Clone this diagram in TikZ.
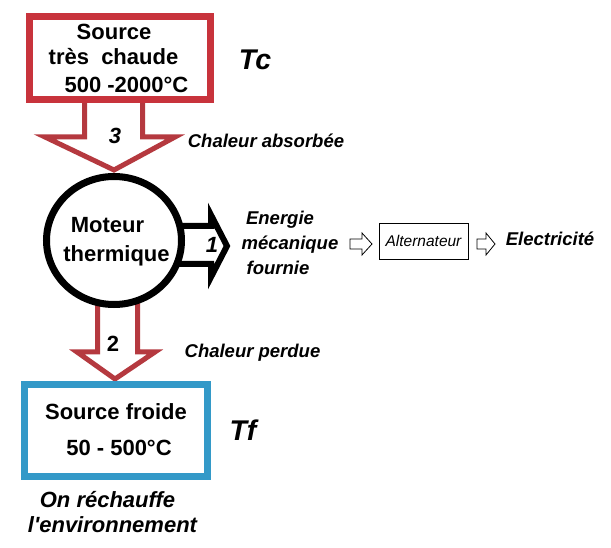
\documentclass[tikz,border=0pt]{standalone}
\usepackage{fontspec}
\setmainfont{Liberation Sans}
\usetikzlibrary{shapes.geometric}
\definecolor{hotred}{HTML}{C8333C}
\definecolor{arrred}{HTML}{B5393F}
\definecolor{coldblue}{HTML}{3399C8}
\begin{document}
\begin{tikzpicture}[x=1pt,y=-1pt,
  hotbox/.style={draw=hotred,line width=7pt,fill=white,minimum width=181pt,minimum height=83pt,inner sep=0pt},
  coldbox/.style={draw=coldblue,line width=7pt,fill=white,minimum width=183pt,minimum height=92pt,inner sep=0pt},
  enginecirc/.style={draw=black,line width=7pt,fill=white,ellipse,inner sep=0pt},
  altbox/.style={draw=black,line width=0.8pt,minimum width=89pt,minimum height=36pt,inner sep=0pt},
  bigarrow/.style={draw=arrred,line width=5pt,fill=white,miter limit=20},
  blackarrow/.style={draw=black,line width=6pt,fill=white,miter limit=20},
  smallarrow/.style={draw=black,line width=0.8pt,fill=white},
  bt/.style={font=\bfseries\fontsize{22}{24}\selectfont,inner sep=0pt,anchor=base},
  it/.style={font=\bfseries\itshape\fontsize{18.5}{20}\selectfont,inner sep=0pt,anchor=base},
  bigit/.style={font=\bfseries\itshape\fontsize{22}{24}\selectfont,inner sep=0pt,anchor=base},
  temp/.style={font=\bfseries\itshape\fontsize{28.5}{30}\selectfont,inner sep=0pt,anchor=base},
]
\useasboundingbox (0,0) rectangle (611,548);
\fill[white] (0,0) rectangle (611,548);

% block arrows (drawn first, boxes cover their roots)
\draw[bigarrow] (84.5,99) -- (84.5,137) -- (45,137) -- (114,170) -- (175,137) -- (142.5,137) -- (142.5,99);
\draw[bigarrow] (97.5,292) -- (97.5,352) -- (77,352) -- (115,379) -- (155,352) -- (137.5,352) -- (137.5,292);
\draw[blackarrow] (175,226) -- (211,226) -- (211,215) -- (227,246) -- (211,277) -- (211,264) -- (175,264);

% main shapes
\node[hotbox] (hot) at (119.5,58.5) {};
\node[enginecirc, minimum width=135pt, minimum height=128pt] (engine) at (114,240.5) {};
\node[coldbox] (cold) at (115.5,430) {};

% texts of the hot source
\node[bt] (h1) at (114,40) {Source};
\node[bt] (h2) at (113.5,65) {très\ \ chaude};
\node[bt] (h3) at (126.5,93) {500 -2000°C};
\node[temp] (tc) at (255,70) {Tc};

\node[bigit] (n3) at (115,144) {3};
\node[it] (abs) at (266,148) {Chaleur absorbée};

% engine
\node[bt] (m1) at (107.5,233) {Moteur};
\node[bt] (m2) at (116.5,262) {thermique};
\node[bigit] (n1) at (212,253) {1};
\node[it] (e1) at (280,225) {Energie};
\node[it] (e2) at (290,250) {mécanique};
\node[it] (e3) at (278,275) {fournie};

% alternator chain
\draw[smallarrow] (350,239) -- (362,239) -- (362,233) -- (372,244) -- (362,255) -- (362,249) -- (350,249) -- cycle;
\node[altbox] (alt) at (423.5,241) {};
\node[font=\itshape\fontsize{15.5}{17}\selectfont,inner sep=0pt] (altt) at (alt.center) {Alternateur};
\draw[smallarrow] (477,239) -- (486,239) -- (486,233) -- (495,244) -- (486,255) -- (486,249) -- (477,249) -- cycle;
\node[it] (elec) at (550,246) {Electricité};

% cold part
\node[bt] (n2) at (113,352) {2};
\node[it] (lost) at (252.5,358) {Chaleur perdue};
\node[bt] (c1) at (116,419) {Source froide};
\node[bt] (c2) at (119,455) {50 - 500°C};
\node[temp] (tf) at (243,440) {Tf};
\node[bigit] (o1) at (107.5,507) {On réchauffe};
\node[bigit] (o2) at (112.5,532) {l\textquotesingle environnement};
\end{tikzpicture}
\end{document}
